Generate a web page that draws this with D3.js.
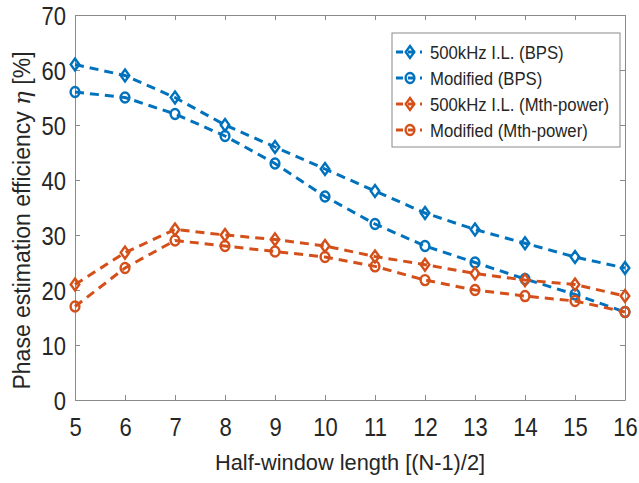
<!DOCTYPE html>
<html>
<head>
<meta charset="utf-8">
<script src="https://cdn.jsdelivr.net/npm/d3@7"></script>
<style>
  html, body { margin: 0; padding: 0; background: #fff; }
  svg text { font-family: "Liberation Sans", Arial, sans-serif; fill: #262626; }
</style>
</head>
<body>
<svg id="chart" width="639" height="483"></svg>
<script>
// data
const halfWin = [5, 6, 7, 8, 9, 10, 11, 12, 13, 14, 15, 16];
const ilBps  = [61, 59, 55, 50, 46, 42, 38, 34, 31, 28.5, 26, 24];
const modBps = [56, 55, 52, 48, 43, 37, 32, 28, 25, 22, 19.2, 16];
const ilMth  = [21, 26.8, 31, 30, 29.2, 28, 26.1, 24.6, 23, 21.8, 21, 18.9];
const modMth = [17, 24, 29, 28, 27, 26, 24.3, 21.8, 20, 18.9, 18, 16];
const yTicks = [0, 10, 20, 30, 40, 50, 60, 70];
const seriesNames = ["500kHz I.L. (BPS)", "Modified (BPS)", "500kHz I.L. (Mth-power)", "Modified (Mth-power)"];

const blue = "#0072BD", red = "#D4501A";

let pl = 75, pr = 625, pt = 15, pb = 400;

let svg = d3.select("#chart");

let x = d3.scaleLinear().domain([5, 16]).range([pl, pr]);
let y = d3.scaleLinear().domain([0, 70]).range([pb, pt]);

// axes (ticks point inward like matlab)
let axisCol = "#8a8a8a";
function styleAxis(g){
    g.select(".domain").attr("stroke", axisCol).attr("stroke-width", 1);
    g.selectAll(".tick line").attr("stroke", axisCol).attr("stroke-width", 1);
}

let gx = svg.append("g").attr("transform", `translate(0,${pb})`)
    .call(d3.axisBottom(x).tickValues(halfWin).tickSize(-5).tickSizeOuter(0).tickFormat(d3.format("d")));
gx.call(styleAxis);
gx.selectAll(".tick text")
    .attr("y", 0).attr("dy", null)
    .attr("font-size", 25)
    .attr("transform", "translate(0,36) scale(0.88,1)")
    .attr("fill", "#262626").attr("text-anchor", "middle");

let gy = svg.append("g").attr("transform", `translate(${pl},0)`)
    .call(d3.axisLeft(y).tickValues(yTicks).tickSize(-5).tickSizeOuter(0));
gy.call(styleAxis);
gy.selectAll(".tick text")
    .attr("x", 0).attr("dy", null)
    .attr("font-size", 25)
    .attr("transform", "translate(-9,9) scale(0.88,1)")
    .attr("fill", "#262626").attr("text-anchor", "end");

let gt = svg.append("g").attr("transform", `translate(0,${pt})`)
    .call(d3.axisTop(x).tickValues(halfWin).tickSize(-5).tickSizeOuter(0).tickFormat(""));
gt.call(styleAxis);
let gr = svg.append("g").attr("transform", `translate(${pr},0)`)
    .call(d3.axisRight(y).tickValues(yTicks).tickSize(-5).tickSizeOuter(0).tickFormat(""));
gr.call(styleAxis);

// axis labels
svg.append("text")
    .attr("x", (pl + pr) / 2).attr("y", 470)
    .attr("text-anchor", "middle")
    .attr("font-size", 21.8)
    .text("Half-window length [(N-1)/2]");

let yl = svg.append("text")
    .attr("transform", `translate(30,${(pt + pb) / 2 + 13}) rotate(-90)`)
    .attr("text-anchor", "middle")
    .attr("font-size", 23);
yl.append("tspan").text("Phase estimation efficiency ");
yl.append("tspan").attr("font-family", "DejaVu Serif").attr("font-style", "italic").text("η");
yl.append("tspan").text(" [%]");

// series
let diamond = "M0,-6L4.3,0L0,6L-4.3,0Z";
let series = [
    {name: seriesNames[0], vals: ilBps,  col: blue, mk: "d"},
    {name: seriesNames[1], vals: modBps, col: blue, mk: "o"},
    {name: seriesNames[2], vals: ilMth,  col: red,  mk: "d"},
    {name: seriesNames[3], vals: modMth, col: red,  mk: "o"}
];

let line = d3.line().x((d, i) => x(halfWin[i])).y(d => y(d));

function marker(g, type, col){
    if(type == "d"){
        g.append("path").attr("d", diamond);
    }else{
        g.append("ellipse").attr("rx", 4.4).attr("ry", 5);
    }
    g.selectAll("path,ellipse")
        .attr("fill", "none").attr("stroke", col).attr("stroke-width", 2.4);
}

series.forEach(s => {
    let g = svg.append("g");
    g.append("path")
        .attr("d", line(s.vals))
        .attr("fill", "none")
        .attr("stroke", s.col)
        .attr("stroke-width", 3)
        .attr("stroke-dasharray", "9,6");
    g.selectAll("g.mk").data(s.vals).enter().append("g")
        .attr("class", "mk")
        .attr("transform", (d, i) => `translate(${x(halfWin[i])},${y(d)})`)
        .each(function(){ marker(d3.select(this), s.mk, s.col); });
});

// legend
let lg = svg.append("g").attr("transform", "translate(392,33)");
lg.append("rect").attr("width", 228).attr("height", 114)
    .attr("fill", "#fff").attr("stroke", "#8a8a8a").attr("stroke-width", 1);
series.forEach((s, i) => {
    let ry = 19 + i * 26;
    let row = lg.append("g").attr("transform", `translate(0,${ry})`);
    row.append("line").attr("x1", 4).attr("x2", 30).attr("y1", 0).attr("y2", 0)
        .attr("stroke", s.col).attr("stroke-width", 3).attr("stroke-dasharray", "7,5");
    let m = row.append("g").attr("transform", "translate(18,0)");
    marker(m, s.mk, s.col);
    row.append("text")
        .attr("transform", "translate(38,7) scale(0.88,1)")
        .attr("font-size", 19)
        .text(s.name);
});
</script>
</body>
</html>
